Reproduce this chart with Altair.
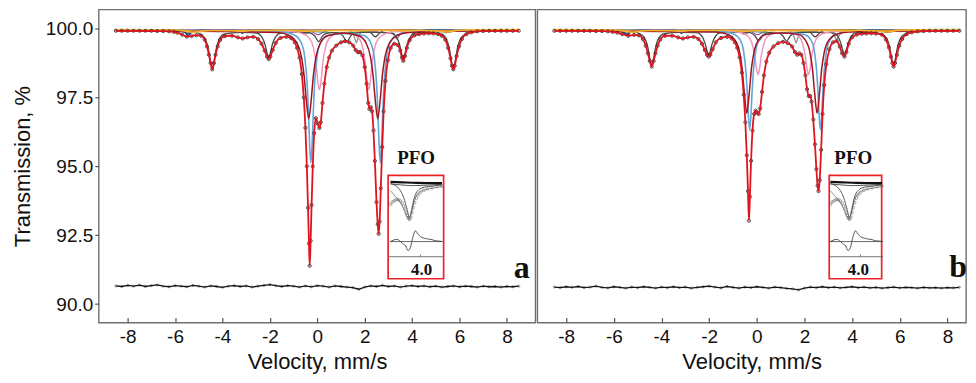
import altair as alt
import pandas as pd

# ---------------- data ----------------
Y_TICKS = [90.0, 92.5, 95.0, 97.5, 100.0]
X_TICKS = [-8, -6, -4, -2, 0, 2, 4, 6, 8]

# envelope fit (red) and measured points, panel a
FIT_A = [(-8.5, 99.92), (-8.25, 99.92), (-8.0, 99.92), (-7.75, 99.92), (-7.5, 99.92), (-7.25, 99.92), (-7.0, 99.92),
         (-6.75, 99.91), (-6.5, 99.91), (-6.25, 99.9), (-6.05, 99.88), (-5.9, 99.85), (-5.7, 99.78), (-5.5, 99.71),
         (-5.3, 99.73), (-5.1, 99.76), (-4.9, 99.74), (-4.75, 99.6), (-4.65, 99.35), (-4.57, 99.05), (-4.5, 98.75),
         (-4.43, 98.52), (-4.36, 98.75), (-4.29, 99.05), (-4.2, 99.35), (-4.1, 99.58), (-3.9, 99.73), (-3.6, 99.74),
         (-3.35, 99.68), (-3.15, 99.64), (-2.95, 99.68), (-2.7, 99.7), (-2.5, 99.62), (-2.35, 99.45), (-2.22, 99.2),
         (-2.12, 98.98), (-2.05, 98.89), (-1.98, 98.98), (-1.88, 99.22), (-1.75, 99.48), (-1.55, 99.66), (-1.3, 99.7),
         (-1.1, 99.65), (-0.95, 99.5), (-0.85, 99.3), (-0.75, 98.95), (-0.65, 98.35), (-0.57, 97.5), (-0.5, 96.4),
         (-0.44, 95.0), (-0.39, 93.5), (-0.35, 92.2), (-0.32, 91.39), (-0.28, 92.3), (-0.24, 93.6), (-0.19, 95.0),
         (-0.13, 96.2), (-0.06, 96.75), (0.02, 96.55), (0.09, 96.39), (0.15, 96.6), (0.22, 97.3), (0.3, 98.0),
         (0.4, 98.6), (0.5, 98.95), (0.62, 99.2), (0.8, 99.38), (1.0, 99.5), (1.17, 99.54), (1.35, 99.5),
         (1.52, 99.38), (1.62, 99.22), (1.72, 99.14), (1.8, 99.15), (1.9, 99.03), (2.0, 98.6), (2.08, 98.0),
         (2.15, 97.3), (2.2, 97.08), (2.26, 97.15), (2.31, 97.0), (2.37, 96.3), (2.43, 95.2), (2.5, 93.7),
         (2.55, 92.9), (2.59, 92.55), (2.63, 93.0), (2.68, 94.2), (2.74, 95.7), (2.8, 97.0), (2.88, 98.1),
         (2.98, 98.85), (3.1, 99.3), (3.25, 99.45), (3.4, 99.4), (3.5, 99.2), (3.57, 98.95), (3.63, 98.83),
         (3.7, 99.0), (3.78, 99.3), (3.9, 99.58), (4.1, 99.75), (4.3, 99.8), (4.5, 99.82), (4.7, 99.83),
         (4.9, 99.82), (5.1, 99.8), (5.25, 99.74), (5.4, 99.6), (5.52, 99.3), (5.62, 98.92), (5.68, 98.65),
         (5.74, 98.52), (5.8, 98.65), (5.88, 99.0), (5.98, 99.35), (6.1, 99.62), (6.3, 99.8), (6.5, 99.86),
         (6.75, 99.9), (7.0, 99.91), (7.25, 99.92), (7.5, 99.92), (7.75, 99.92), (8.0, 99.92), (8.25, 99.92),
         (8.5, 99.92)]

FIT_B = [(-8.5, 99.92), (-8.25, 99.92), (-8.0, 99.92), (-7.75, 99.92), (-7.5, 99.92), (-7.25, 99.92), (-7.0, 99.92),
         (-6.75, 99.91), (-6.5, 99.91), (-6.25, 99.9), (-6.05, 99.88), (-5.85, 99.85), (-5.65, 99.8), (-5.4, 99.74),
         (-5.15, 99.77), (-4.95, 99.75), (-4.78, 99.62), (-4.66, 99.38), (-4.57, 99.1), (-4.49, 98.82),
         (-4.41, 98.62), (-4.33, 98.82), (-4.25, 99.1), (-4.16, 99.38), (-4.05, 99.6), (-3.85, 99.74),
         (-3.55, 99.74), (-3.3, 99.68), (-3.1, 99.64), (-2.9, 99.68), (-2.65, 99.7), (-2.45, 99.62), (-2.3, 99.45),
         (-2.18, 99.22), (-2.09, 99.05), (-2.02, 98.98), (-1.95, 99.05), (-1.85, 99.25), (-1.72, 99.5),
         (-1.5, 99.66), (-1.25, 99.7), (-1.05, 99.64), (-0.92, 99.5), (-0.82, 99.3), (-0.72, 98.95), (-0.63, 98.4),
         (-0.55, 97.6), (-0.48, 96.6), (-0.42, 95.4), (-0.37, 94.1), (-0.33, 93.03), (-0.29, 93.9), (-0.24, 95.2),
         (-0.18, 96.3), (-0.11, 96.9), (-0.05, 97.02), (0.02, 96.95), (0.08, 96.9), (0.14, 97.1), (0.22, 97.7),
         (0.3, 98.3), (0.4, 98.8), (0.52, 99.12), (0.7, 99.35), (0.9, 99.47), (1.1, 99.52), (1.3, 99.47),
         (1.48, 99.35), (1.6, 99.15), (1.7, 99.05), (1.78, 99.1), (1.87, 99.05), (1.96, 98.75), (2.04, 98.3),
         (2.11, 97.8), (2.18, 97.55), (2.24, 97.55), (2.3, 97.35), (2.37, 96.7), (2.44, 95.8), (2.5, 94.9),
         (2.55, 94.3), (2.59, 94.1), (2.64, 94.5), (2.7, 95.6), (2.76, 96.9), (2.83, 97.95), (2.92, 98.7),
         (3.05, 99.25), (3.2, 99.5), (3.35, 99.55), (3.48, 99.35), (3.58, 99.1), (3.68, 98.98), (3.76, 99.15),
         (3.86, 99.45), (4.0, 99.68), (4.2, 99.78), (4.4, 99.81), (4.6, 99.82), (4.8, 99.83), (5.0, 99.82),
         (5.25, 99.78), (5.42, 99.6), (5.54, 99.32), (5.63, 98.98), (5.69, 98.75), (5.74, 98.62), (5.8, 98.75),
         (5.88, 99.05), (5.98, 99.38), (6.1, 99.62), (6.3, 99.8), (6.5, 99.86), (6.75, 99.9), (7.0, 99.91),
         (7.25, 99.92), (7.5, 99.92), (7.75, 99.92), (8.0, 99.92), (8.25, 99.92), (8.5, 99.92)]

# main magnetic sextet sub-spectrum (dark grey)
SEXTET_A = [(-8.5, 99.93), (-5.23, 99.88), (-4.93, 99.8), (-4.73, 99.63), (-4.59, 99.24), (-4.51, 98.83),
            (-4.43, 98.55), (-4.35, 98.83), (-4.27, 99.24), (-4.13, 99.63), (-3.93, 99.8), (-3.24, 99.86),
            (-2.55, 99.84), (-2.35, 99.71), (-2.21, 99.44), (-2.13, 99.15), (-2.05, 98.95), (-1.97, 99.15),
            (-1.89, 99.44), (-1.75, 99.71), (-1.55, 99.84), (-1.0, 99.87), (-0.44, 99.86), (-0.24, 99.82),
            (-0.1, 99.73), (-0.02, 99.61), (0.06, 99.53), (0.14, 99.61), (0.22, 99.73), (0.36, 99.82),
            (0.65, 99.85), (0.95, 99.82), (1.09, 99.73), (1.17, 99.61), (1.25, 99.53), (1.33, 99.61),
            (1.41, 99.73), (1.55, 99.82), (1.9, 99.86), (2.5, 99.86), (3.13, 99.84), (3.33, 99.71),
            (3.47, 99.43), (3.55, 99.13), (3.63, 98.93), (3.71, 99.13), (3.79, 99.43), (3.93, 99.71),
            (4.13, 99.84), (4.7, 99.86), (5.24, 99.8), (5.44, 99.63), (5.58, 99.24), (5.66, 98.83),
            (5.74, 98.55), (5.82, 98.83), (5.9, 99.24), (6.04, 99.63), (6.24, 99.8), (6.54, 99.88), (8.5, 99.93)]
SEXTET_B = [(-8.5, 99.93), (-5.21, 99.88), (-4.91, 99.81), (-4.71, 99.66), (-4.57, 99.31), (-4.49, 98.93),
            (-4.41, 98.68), (-4.33, 98.93), (-4.25, 99.31), (-4.11, 99.66), (-3.91, 99.81), (-3.22, 99.86),
            (-2.52, 99.85), (-2.32, 99.74), (-2.18, 99.49), (-2.1, 99.23), (-2.02, 99.05), (-1.94, 99.23),
            (-1.86, 99.49), (-1.72, 99.74), (-1.52, 99.85), (-0.98, 99.87), (-0.42, 99.87), (-0.22, 99.83),
            (-0.08, 99.74), (0.0, 99.63), (0.08, 99.55), (0.16, 99.63), (0.24, 99.74), (0.38, 99.83),
            (0.66, 99.86), (0.95, 99.83), (1.09, 99.74), (1.17, 99.63), (1.25, 99.55), (1.33, 99.63),
            (1.41, 99.74), (1.55, 99.83), (1.9, 99.86), (2.5, 99.86), (3.18, 99.85), (3.38, 99.74),
            (3.52, 99.49), (3.6, 99.23), (3.68, 99.05), (3.76, 99.23), (3.84, 99.49), (3.98, 99.74),
            (4.18, 99.85), (4.72, 99.86), (5.24, 99.81), (5.44, 99.66), (5.58, 99.31), (5.66, 98.93),
            (5.74, 98.68), (5.82, 98.93), (5.9, 99.31), (6.04, 99.66), (6.24, 99.81), (6.54, 99.88), (8.5, 99.93)]

# light blue doublet
DOUBLET_BLUE_A = [(-8.5, 99.93), (-1.47, 99.87), (-0.97, 99.77), (-0.67, 99.47), (-0.52, 98.91), (-0.42, 97.87),
                  (-0.37, 96.91), (-0.32, 95.75), (-0.27, 95.13), (-0.22, 95.75), (-0.17, 96.91), (-0.12, 97.87),
                  (-0.02, 98.91), (0.13, 99.47), (0.43, 99.75), (1.2, 99.82), (1.96, 99.75), (2.26, 99.47),
                  (2.41, 98.91), (2.51, 97.87), (2.56, 96.91), (2.61, 95.75), (2.66, 95.13), (2.71, 95.75),
                  (2.76, 96.91), (2.81, 97.87), (2.91, 98.91), (3.06, 99.47), (3.36, 99.77), (3.86, 99.87),
                  (8.5, 99.93)]
DOUBLET_BLUE_B = [(-8.5, 99.93), (-1.5, 99.89), (-1.0, 99.81), (-0.7, 99.59), (-0.55, 99.16), (-0.45, 98.38),
                  (-0.4, 97.67), (-0.35, 96.79), (-0.3, 96.33), (-0.25, 96.79), (-0.2, 97.67), (-0.15, 98.38),
                  (-0.05, 99.16), (0.1, 99.59), (0.4, 99.79), (1.18, 99.85), (1.97, 99.79), (2.27, 99.59),
                  (2.42, 99.16), (2.52, 98.38), (2.57, 97.67), (2.62, 96.79), (2.67, 96.33), (2.72, 96.79),
                  (2.77, 97.67), (2.82, 98.38), (2.92, 99.16), (3.07, 99.59), (3.37, 99.81), (3.87, 99.89),
                  (8.5, 99.93)]

# pink doublet
DOUBLET_PINK_A = [(-8.5, 99.93), (-1.11, 99.89), (-0.61, 99.82), (-0.31, 99.63), (-0.16, 99.3), (-0.06, 98.79),
                  (0.04, 97.97), (0.09, 97.78), (0.14, 97.97), (0.24, 98.79), (0.34, 99.3), (0.49, 99.63),
                  (0.79, 99.8), (1.13, 99.83), (1.47, 99.8), (1.77, 99.63), (1.92, 99.3), (2.02, 98.79),
                  (2.12, 97.97), (2.17, 97.78), (2.22, 97.97), (2.32, 98.79), (2.42, 99.3), (2.57, 99.63),
                  (2.87, 99.82), (3.37, 99.89), (8.5, 99.93)]
DOUBLET_PINK_B = [(-8.5, 99.93), (-1.15, 99.9), (-0.65, 99.85), (-0.35, 99.71), (-0.2, 99.46), (-0.1, 99.08),
                  (0.0, 98.47), (0.05, 98.33), (0.1, 98.47), (0.2, 99.08), (0.3, 99.46), (0.45, 99.71),
                  (0.75, 99.84), (1.11, 99.86), (1.47, 99.84), (1.77, 99.71), (1.92, 99.46), (2.02, 99.08),
                  (2.12, 98.47), (2.17, 98.33), (2.22, 98.47), (2.32, 99.08), (2.42, 99.46), (2.57, 99.71),
                  (2.87, 99.85), (3.37, 99.9), (8.5, 99.93)]

# dark red doublet
DOUBLET_RED_A = [(-8.5, 99.93), (-1.66, 99.86), (-1.16, 99.74), (-0.86, 99.49), (-0.66, 98.95), (-0.56, 98.33),
                 (-0.46, 97.37), (-0.36, 96.73), (-0.26, 97.37), (-0.16, 98.33), (-0.06, 98.95), (0.14, 99.49),
                 (0.44, 99.74), (1.1, 99.84), (1.75, 99.74), (2.05, 99.49), (2.25, 98.95), (2.35, 98.33),
                 (2.45, 97.37), (2.55, 96.73), (2.65, 97.37), (2.75, 98.33), (2.85, 98.95), (3.05, 99.49),
                 (3.35, 99.74), (3.85, 99.86), (8.5, 99.93)]
DOUBLET_RED_B = [(-8.5, 99.93), (-1.72, 99.88), (-1.22, 99.79), (-0.92, 99.59), (-0.72, 99.14), (-0.62, 98.58),
                 (-0.52, 97.64), (-0.42, 96.93), (-0.32, 97.64), (-0.22, 98.58), (-0.12, 99.14), (0.08, 99.59),
                 (0.38, 99.79), (1.05, 99.84), (1.73, 99.79), (2.03, 99.59), (2.23, 99.14), (2.33, 98.58),
                 (2.43, 97.64), (2.53, 96.93), (2.63, 97.64), (2.73, 98.58), (2.83, 99.14), (3.03, 99.59),
                 (3.33, 99.79), (3.83, 99.88), (8.5, 99.93)]

# weak sub-spectra near the baseline
MINOR_DARK = [(-8.5, 99.94), (-5.85, 99.93), (-5.6, 99.88), (-5.52, 99.84), (-5.45, 99.8), (-5.38, 99.84),
              (-5.3, 99.88), (-5.05, 99.93), (-3.5, 99.93), (-3.3, 99.9), (-3.2, 99.88), (-3.15, 99.86),
              (-3.1, 99.88), (-3.0, 99.9), (-2.8, 99.93), (-0.95, 99.93), (-0.7, 99.87), (-0.62, 99.83),
              (-0.55, 99.8), (-0.48, 99.83), (-0.4, 99.87), (-0.15, 99.93), (2.05, 99.93), (2.3, 99.82),
              (2.38, 99.74), (2.45, 99.7), (2.52, 99.74), (2.6, 99.82), (2.85, 99.93), (5.05, 99.93),
              (5.3, 99.9), (5.38, 99.87), (5.45, 99.85), (5.52, 99.87), (5.6, 99.9), (5.85, 99.93), (8.5, 99.94)]
MINOR_GREY = [(-8.5, 99.95), (-5.7, 99.94), (-5.45, 99.9), (-5.3, 99.86), (-5.15, 99.9), (-4.9, 99.94),
              (-0.9, 99.94), (-0.6, 99.87), (-0.45, 99.82), (-0.3, 99.87), (0.0, 99.94), (1.3, 99.93),
              (1.5, 99.82), (1.58, 99.66), (1.65, 99.48), (1.72, 99.66), (1.8, 99.82), (2.0, 99.93),
              (3.0, 99.93), (3.2, 99.8), (3.28, 99.7), (3.35, 99.62), (3.42, 99.7), (3.5, 99.8), (3.7, 99.93),
              (5.2, 99.94), (5.4, 99.9), (5.55, 99.86), (5.7, 99.9), (5.95, 99.94), (8.5, 99.95)]
MINOR_NAVY = [(-8.5, 99.95), (-5.9, 99.94), (-5.62, 99.88), (-5.52, 99.8), (-5.45, 99.76), (-5.38, 99.8),
              (-5.28, 99.88), (-5.0, 99.94), (-3.45, 99.94), (-3.25, 99.88), (-3.16, 99.83), (-3.08, 99.88),
              (-2.9, 99.94), (4.1, 99.95), (4.3, 99.91), (4.5, 99.95), (5.7, 99.95), (5.9, 99.91), (6.1, 99.95),
              (8.5, 99.95)]
MINOR_PURPLE = [(-8.5, 99.95), (-0.45, 99.94), (-0.2, 99.88), (-0.05, 99.8), (0.05, 99.78), (0.15, 99.82),
                (0.35, 99.9), (0.6, 99.94), (2.1, 99.94), (2.3, 99.9), (2.4, 99.88), (2.5, 99.9), (2.7, 99.94),
                (8.5, 99.95)]
MINOR_YELLOW = [(-8.5, 99.97), (-6.0, 99.95), (-5.5, 99.9), (-5.2, 99.86), (-4.9, 99.9), (-4.4, 99.93),
                (-3.6, 99.92), (-3.2, 99.9), (-2.8, 99.93), (-1.2, 99.94), (-0.5, 99.9), (0.0, 99.92),
                (1.0, 99.93), (1.6, 99.91), (2.3, 99.93), (3.2, 99.93), (3.7, 99.91), (4.3, 99.94), (5.0, 99.91),
                (5.45, 99.88), (5.9, 99.93), (6.5, 99.96), (8.5, 99.97)]
MINOR_ORANGE = [(-8.5, 99.96), (-5.4, 99.93), (-5.1, 99.9), (-4.8, 99.93), (3.8, 99.95), (4.9, 99.91),
                (5.3, 99.93), (8.5, 99.96)]
MINOR_GREEN = [(-8.5, 99.95), (-1.0, 99.94), (-0.3, 99.9), (0.3, 99.87), (0.9, 99.85), (1.5, 99.86),
               (2.0, 99.9), (2.6, 99.94), (8.5, 99.95)]

# residuals (shifted down, drawn at the bottom)
RES_V = [-8.5, -8.25, -8.0, -7.75, -7.5, -7.25, -7.0, -6.75, -6.5, -6.25,
         -6.0, -5.75, -5.5, -5.25, -5.0, -4.75, -4.5, -4.25, -4.0, -3.75,
         -3.5, -3.25, -3.0, -2.75, -2.5, -2.25, -2.0, -1.75, -1.5, -1.25,
         -1.0, -0.75, -0.5, -0.25, 0.0, 0.25, 0.5, 0.75, 1.0, 1.25,
         1.5, 1.75, 2.0, 2.25, 2.5, 2.75, 3.0, 3.25, 3.5, 3.75,
         4.0, 4.25, 4.5, 4.75, 5.0, 5.25, 5.5, 5.75, 6.0, 6.25,
         6.5, 6.75, 7.0, 7.25, 7.5, 7.75, 8.0, 8.25, 8.5]
RES_A = [90.66, 90.64, 90.68, 90.65, 90.69, 90.64, 90.67, 90.70, 90.65, 90.63,
         90.67, 90.65, 90.63, 90.68, 90.65, 90.62, 90.66, 90.64, 90.61, 90.65,
         90.67, 90.64, 90.66, 90.62, 90.65, 90.68, 90.71, 90.67, 90.64, 90.67,
         90.65, 90.62, 90.66, 90.63, 90.67, 90.65, 90.62, 90.66, 90.64, 90.62,
         90.60, 90.54, 90.62, 90.66, 90.64, 90.68, 90.64, 90.66, 90.62, 90.65,
         90.67, 90.64, 90.66, 90.63, 90.65, 90.62, 90.64, 90.66, 90.63, 90.65,
         90.64, 90.62, 90.65, 90.63, 90.64, 90.62, 90.64, 90.63, 90.65]
RES_B = [90.62, 90.60, 90.63, 90.61, 90.64, 90.60, 90.62, 90.65, 90.61, 90.59,
         90.63, 90.61, 90.58, 90.62, 90.60, 90.63, 90.61, 90.58, 90.62, 90.60,
         90.63, 90.60, 90.62, 90.58, 90.61, 90.63, 90.65, 90.62, 90.59, 90.64,
         90.61, 90.58, 90.62, 90.60, 90.63, 90.61, 90.58, 90.62, 90.60, 90.57,
         90.55, 90.52, 90.58, 90.62, 90.60, 90.63, 90.60, 90.62, 90.59, 90.61,
         90.63, 90.60, 90.62, 90.59, 90.61, 90.58, 90.60, 90.62, 90.59, 90.61,
         90.60, 90.58, 90.61, 90.59, 90.60, 90.58, 90.60, 90.59, 90.61]

# inset "PFO" (drawn in the main chart's units)
INSET_BOX_A = [(2.99, 94.67, 5.33, 90.92)]
INSET_BOX_B = [(3.04, 94.67, 5.24, 90.92)]
INSET_TOP = [(3.09, 94.44), (3.6, 94.42), (4.2, 94.40), (5.26, 94.39)]
INSET_TOP2 = [(3.09, 94.36), (3.5, 94.33), (4.0, 94.30), (5.26, 94.35)]
INSET_POINTS = [(3.09, 93.62), (3.16, 93.7), (3.23, 93.74), (3.3, 93.78), (3.37, 93.8), (3.44, 93.78),
                (3.51, 93.74), (3.58, 93.66), (3.65, 93.56), (3.7, 93.45), (3.75, 93.32), (3.79, 93.22),
                (3.83, 93.14), (3.87, 93.09), (3.9, 93.08), (3.95, 93.16), (4.0, 93.32), (4.05, 93.5),
                (4.11, 93.68), (4.18, 93.84), (4.25, 93.96), (4.35, 94.05), (4.49, 94.13), (4.65, 94.18),
                (4.84, 94.22), (5.05, 94.26), (5.26, 94.29)]
INSET_FIT1 = [(3.09, 94.38), (3.3, 94.3), (3.44, 94.2), (3.55, 94.05), (3.65, 93.86), (3.72, 93.65),
              (3.79, 93.44), (3.85, 93.22), (3.89, 93.14), (3.94, 93.25), (4.0, 93.5), (4.07, 93.78),
              (4.14, 93.98), (4.25, 94.12), (4.42, 94.22), (4.8, 94.28), (5.26, 94.32)]
INSET_FIT2 = [(3.09, 94.12), (3.2, 94.0), (3.35, 93.85), (3.5, 93.7), (3.62, 93.5), (3.72, 93.3),
              (3.8, 93.16), (3.86, 93.12), (3.93, 93.2), (4.0, 93.4), (4.1, 93.75), (4.2, 93.95),
              (4.4, 94.1), (4.8, 94.2), (5.26, 94.26)]
INSET_RES = [(3.09, 92.27), (3.2, 92.32), (3.37, 92.35), (3.5, 92.28), (3.6, 92.2), (3.72, 92.12),
             (3.83, 91.94), (3.93, 92.06), (4.03, 92.42), (4.14, 92.66), (4.25, 92.54), (4.35, 92.45),
             (4.42, 92.42), (4.56, 92.38), (4.7, 92.36), (4.84, 92.34), (4.98, 92.3), (5.12, 92.29),
             (5.28, 92.27)]
INSET_ZERO = [(3.06, 92.27), (5.28, 92.27)]
INSET_AXIS = [(3.02, 91.72), (5.3, 91.72)]
INSET_TICK = [(4.35, 91.72, 91.8)]

TEXT_A = [("PFO", 4.17, 95.07, "pfo"), ("4.0", 4.40, 91.07, "tick"), ("a", 8.62, 90.95, "letter")]
TEXT_B = [("PFO", 4.05, 95.07, "pfo"), ("4.0", 4.26, 91.07, "tick"), ("b", 8.45, 90.97, "letter")]

X_DOMAIN_A = [-9.22, 9.2]
X_DOMAIN_B = [-9.21, 8.78]
Y_DOMAIN = [89.33, 100.69]

# ---------------- chart ----------------
SANS = "Liberation Sans"
SERIF = "Liberation Serif"


def pairs(p):
    return pd.DataFrame(p, columns=["v", "T"])


def panel(xdom, width, fit, res_vals, sextet, blue, pink, red, box, texts, show_y):
    x_axis = alt.Axis(values=X_TICKS, grid=False, domain=False, tickSize=5, offset=-5,
                      labelPadding=5, titlePadding=5, labelFontSize=19, titleFontSize=22,
                      labelFont=SANS, titleFont=SANS, titleFontWeight="normal",
                      labelColor="#111", titleColor="#111", tickColor="#555", tickWidth=1.2,
                      labelExpr="datum.value < 0 ? '-' + abs(datum.value) : '' + datum.value")
    y_axis = alt.Axis(values=Y_TICKS, format=".1f", grid=False, domain=False, tickSize=4,
                      labelPadding=2, titlePadding=11, labelFontSize=19, titleFontSize=22,
                      labelFont=SANS, titleFont=SANS, titleFontWeight="normal",
                      labelColor="#111", titleColor="#111", tickColor="#555", tickWidth=1.2)
    X = alt.X("v:Q", scale=alt.Scale(domain=xdom, nice=False, zero=False), axis=x_axis,
              title="Velocity, mm/s")
    Y = alt.Y("T:Q", scale=alt.Scale(domain=Y_DOMAIN, nice=False, zero=False),
              axis=y_axis if show_y else None, title="Transmission, %")

    def line(p, color, w=1.2, interp="monotone"):
        return alt.Chart(pairs(p)).mark_line(color=color, strokeWidth=w, interpolate=interp).encode(x=X, y=Y)

    layers = [
        line(MINOR_DARK, "#3a3a3a", 1.1),
        line(MINOR_GREY, "#8a8a8a", 1.2),
        line(MINOR_NAVY, "#1f3d9c", 1.3),
        line(MINOR_PURPLE, "#8e44ad", 1.1),
        line(MINOR_GREEN, "#2e8b57", 1.1),
        line(sextet, "#4a4a4a", 1.3),
        line(pink, "#f291ba", 1.4),
        line(blue, "#5fa8d8", 1.6),
        line(red, "#a3121f", 1.5),
        line(MINOR_ORANGE, "#f28c28", 1.2),
        line(MINOR_YELLOW, "#f2b531", 1.5),
    ]
    fit_df = pairs(fit)
    layers.append(alt.Chart(fit_df).mark_point(shape="circle", filled=False, size=10, strokeWidth=0.9,
                                               color="#222", opacity=0.9).encode(x=X, y=Y))
    layers.append(alt.Chart(fit_df).mark_line(color="#e0141e", strokeWidth=1.8,
                                              interpolate="monotone").encode(x=X, y=Y))
    res_df = pd.DataFrame({"v": RES_V, "T": res_vals})
    layers.append(alt.Chart(res_df).mark_line(color="#111", strokeWidth=1.3).encode(x=X, y=Y))
    layers.append(alt.Chart(res_df).mark_point(shape="circle", filled=False, size=5, strokeWidth=0.6,
                                               color="#222").encode(x=X, y=Y))

    # inset
    box_df = pd.DataFrame(box, columns=["v", "T", "v2", "T2"])
    layers.append(alt.Chart(box_df).mark_rect(fill="white", stroke="#ec2229", strokeWidth=1.7).encode(
        x=X, y=Y, x2=alt.X2("v2:Q"), y2=alt.Y2("T2:Q")))
    layers += [
        line(INSET_TOP2, "#555", 1.0),
        line(INSET_TOP, "#111", 2.2),
        line(INSET_FIT2, "#777", 0.8),
        line(INSET_FIT1, "#444", 0.9),
        alt.Chart(pairs(INSET_POINTS)).mark_point(shape="circle", filled=False, size=7, strokeWidth=0.7,
                                                  color="#555").encode(x=X, y=Y),
        line(INSET_ZERO, "#555", 0.9, "linear"),
        line(INSET_RES, "#444", 0.9),
        line(INSET_AXIS, "#666", 0.9, "linear"),
    ]
    tick_df = pd.DataFrame(INSET_TICK, columns=["v", "T", "T2"])
    layers.append(alt.Chart(tick_df).mark_rule(color="#666", strokeWidth=0.9).encode(
        x=X, y=Y, y2=alt.Y2("T2:Q")))

    text_df = pd.DataFrame(texts, columns=["label", "v", "T", "kind"])
    sizes = {"pfo": 19, "tick": 17, "letter": 32}
    for kind, size in sizes.items():
        layers.append(alt.Chart(text_df[text_df["kind"] == kind]).mark_text(
            font=SERIF, fontWeight="bold", fontSize=size, align="center", baseline="alphabetic",
            color="#111").encode(x=X, y=Y, text="label:N"))

    return alt.layer(*layers).properties(width=width, height=314)


pa = panel(X_DOMAIN_A, 438, FIT_A, RES_A, SEXTET_A, DOUBLET_BLUE_A, DOUBLET_PINK_A, DOUBLET_RED_A,
           INSET_BOX_A, TEXT_A, True)
pb = panel(X_DOMAIN_B, 430, FIT_B, RES_B, SEXTET_B, DOUBLET_BLUE_B, DOUBLET_PINK_B, DOUBLET_RED_B,
           INSET_BOX_B, TEXT_B, False)

chart = alt.hconcat(pa, pb, spacing=0).properties(
    padding={"left": 2, "right": 0, "top": 0, "bottom": 0},
    background="white",
).configure_view(stroke="#707070", strokeWidth=1.4)

chart.save("out.html", embed_options={"renderer": "svg", "actions": False})
